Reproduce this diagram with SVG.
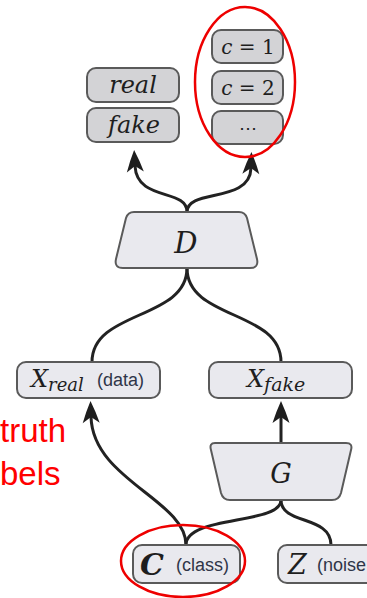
<svg xmlns="http://www.w3.org/2000/svg" width="367" height="598" viewBox="0 0 367 598">
  <style>
    .out { fill: #d3d3d6; stroke: #5a5a5a; stroke-width: 2; }
    .box { fill: #e9e9ee; stroke: #5a5a5a; stroke-width: 2; }
    .math { font-family: "DejaVu Serif", "Liberation Serif", serif; font-style: italic; fill: #1e1e1e; }
    .up { font-style: normal; }
    .note { font-family: "Liberation Sans", "DejaVu Sans", sans-serif; font-size: 18px; fill: #2f3548; }
    .link { fill: none; stroke: #222; stroke-width: 3; stroke-linecap: round; }
    .mark { fill: none; stroke: #ee0000; stroke-width: 2.5; }
    .red { font-family: "Liberation Sans", "DejaVu Sans", sans-serif; font-size: 33px; fill: #ff0000; }
  </style>
  <defs>
    <!-- stealth-style arrowhead with slightly curved flanks -->
    <marker id="head" markerUnits="userSpaceOnUse" viewBox="-1 -10 25 20" markerWidth="25" markerHeight="20" refX="6" refY="0" orient="auto">
      <path d="M0,-8.5 Q11,-5 22,0 Q11,5 0,8.5 L6,0 Z" fill="#1e1e1e"/>
    </marker>
  </defs>

  <!-- connectors -->
  <g id="connectors">
    <path class="link" d="M187,212 C187,188 137,202 135,166" marker-end="url(#head)"/>
    <path class="link" d="M187,212 C187,188 250,204 251,168" marker-end="url(#head)"/>
    <path class="link" d="M187,268 C187,320 92,310 92,362"/>
    <path class="link" d="M187,268 C187,320 281,310 281,362"/>
    <path class="link" d="M186,545 C186,500 93,480 91,417" marker-end="url(#head)"/>
    <path class="link" d="M281,443 L281,417" marker-end="url(#head)"/>
    <path class="link" d="M281,500 C281,525 186,515 186,545"/>
    <path class="link" d="M281,500 C281,525 331,515 331,545"/>
  </g>

  <!-- discriminator outputs -->
  <g id="out-real">
    <rect class="out" x="87" y="68" width="92" height="34" rx="9"/>
    <text class="math" x="133" y="93" font-size="24" text-anchor="middle">real</text>
  </g>
  <g id="out-fake">
    <rect class="out" x="87" y="108" width="92" height="34" rx="9"/>
    <text class="math" x="134" y="133" font-size="24" text-anchor="middle">fake</text>
  </g>
  <g id="out-c1">
    <rect class="out" x="212" y="30" width="71" height="33" rx="9"/>
    <text class="math" x="248" y="54" font-size="20" text-anchor="middle">c <tspan class="up">= 1</tspan></text>
  </g>
  <g id="out-c2">
    <rect class="out" x="212" y="71" width="71" height="33" rx="9"/>
    <text class="math" x="248" y="95" font-size="20" text-anchor="middle">c <tspan class="up">= 2</tspan></text>
  </g>
  <g id="out-more">
    <rect class="out" x="212" y="111" width="71" height="33" rx="9"/>
    <text class="math up" x="248" y="134" font-size="18" text-anchor="middle" fill="#3a4a66">⋯</text>
  </g>

  <!-- discriminator -->
  <g id="D">
    <path class="box" d="M134,212 L239,212 Q245,212 247,218 L257,259 Q259,268 250,268 L123,268 Q114,268 116,259 L126,218 Q128,212 134,212 Z"/>
    <text class="math" x="186" y="253" font-size="29" text-anchor="middle">D</text>
  </g>

  <!-- samples -->
  <g id="X-real">
    <rect class="box" x="17" y="362" width="143" height="36" rx="9"/>
    <text class="math" x="31" y="387" font-size="24">X<tspan font-size="18" dy="4">real</tspan></text>
    <text class="note" x="97" y="386">(data)</text>
  </g>
  <g id="X-fake">
    <rect class="box" x="209" y="362" width="143" height="36" rx="9"/>
    <text class="math" x="247" y="387" font-size="24">X<tspan font-size="19" dy="4">fake</tspan></text>
  </g>

  <!-- generator -->
  <g id="G">
    <path class="box" d="M215,443 L346,443 Q353,443 351,450 L341,493 Q339,500 332,500 L230,500 Q223,500 221,493 L211,450 Q209,443 215,443 Z"/>
    <text class="math" x="281" y="483" font-size="27" text-anchor="middle">G</text>
  </g>

  <!-- inputs -->
  <g id="C">
    <rect class="box" x="133" y="545" width="107" height="38" rx="9"/>
    <text class="math" x="140" y="575" font-size="30" font-weight="bold">C</text>
    <text class="note" x="176" y="571">(class)</text>
  </g>
  <g id="Z">
    <rect class="box" x="278" y="545" width="110" height="38" rx="9"/>
    <text class="math" x="288" y="574" font-size="27">Z</text>
    <text class="note" x="317" y="571">(noise</text>
  </g>

  <!-- annotations -->
  <g id="annotations">
    <ellipse class="mark" cx="245" cy="82" rx="50" ry="75"/>
    <ellipse class="mark" cx="183" cy="561" rx="62" ry="36"/>
    <text class="red" x="0" y="442">truth</text>
    <text class="red" x="0" y="485">bels</text>
  </g>
</svg>
